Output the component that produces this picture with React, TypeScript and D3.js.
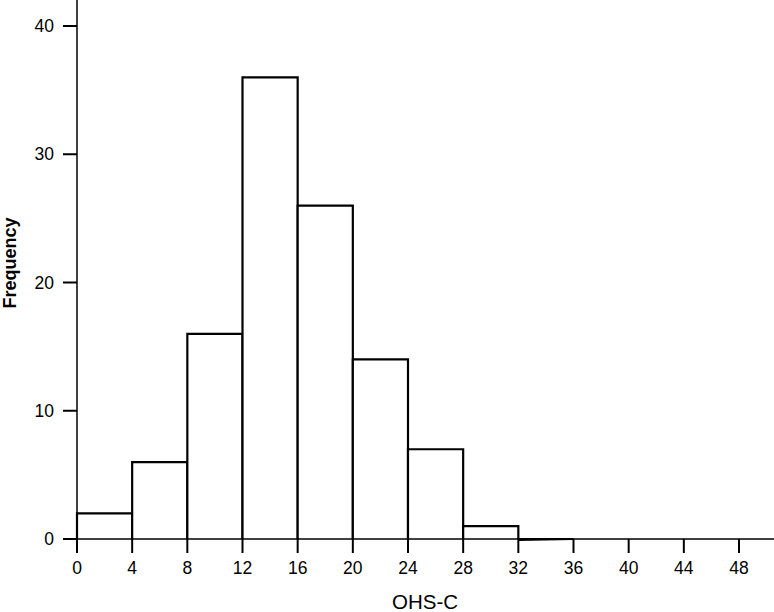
import React from "react";
import * as d3 from "d3";

// histogram bins (OHS-C) and counts
const binStarts = [0, 4, 8, 12, 16, 20, 24, 28, 32];
const binWidth = 4;
const counts = [2, 6, 16, 36, 26, 14, 7, 1, 0];
const xTicks = [0, 4, 8, 12, 16, 20, 24, 28, 32, 36, 40, 44, 48];
const yTicks = [0, 10, 20, 30, 40];

const W = 774;
const H = 612;

export default function App() {
  const x = d3.scaleLinear().domain([0, 48]).range([77, 739]);
  const y = d3.scaleLinear().domain([0, 40]).range([539, 26]);
  const font = "Arial, 'Liberation Sans', sans-serif";

  // outline of each bar; a zero count still leaves a line on the base
  const barPath = (b: number, c: number) => {
    const p = d3.path();
    p.moveTo(x(b), y(0));
    p.lineTo(x(b), y(c));
    p.lineTo(x(b + binWidth), y(c));
    p.lineTo(x(b + binWidth), y(0));
    if (c === 0) p.lineTo(x(b), y(0) + 1);
    return p.toString();
  };

  return (
    <svg
      width={W}
      height={H}
      style={{ position: "absolute", left: 0, top: 0, background: "#fff" }}
      fontFamily={font}
    >
      {/* bars */}
      {binStarts.map((b, i) => (
        <path
          key={b}
          d={barPath(b, counts[i])}
          fill="#fff"
          stroke="#000"
          strokeWidth={2.2}
          strokeLinejoin="miter"
        />
      ))}

      {/* y axis */}
      <line x1={x(0)} x2={x(0)} y1={0} y2={y(0)} stroke="#000" strokeWidth={1.5} />
      {yTicks.map((t) => (
        <g key={t} transform={`translate(${x(0)},${y(t)})`}>
          <line x1={-14} x2={0} stroke="#000" strokeWidth={2} />
          <text x={-23} dy="0.35em" textAnchor="end" fontSize={17.5}>
            {t}
          </text>
        </g>
      ))}

      {/* x axis */}
      <line x1={x(0) - 14} x2={W} y1={y(0)} y2={y(0)} stroke="#000" strokeWidth={1.5} />
      {xTicks.map((t) => (
        <g key={t} transform={`translate(${x(t)},${y(0)})`}>
          <line y1={0} y2={14} stroke="#000" strokeWidth={2} />
          <text y={29} dy="0.35em" textAnchor="middle" fontSize={17.5}>
            {t}
          </text>
        </g>
      ))}

      <text x={392} y={609} fontSize={20.5}>
        OHS-C
      </text>
      <text
        transform={`translate(16,263) rotate(-90)`}
        textAnchor="middle"
        fontSize={18}
        fontWeight="bold"
      >
        Frequency
      </text>
    </svg>
  );
}
